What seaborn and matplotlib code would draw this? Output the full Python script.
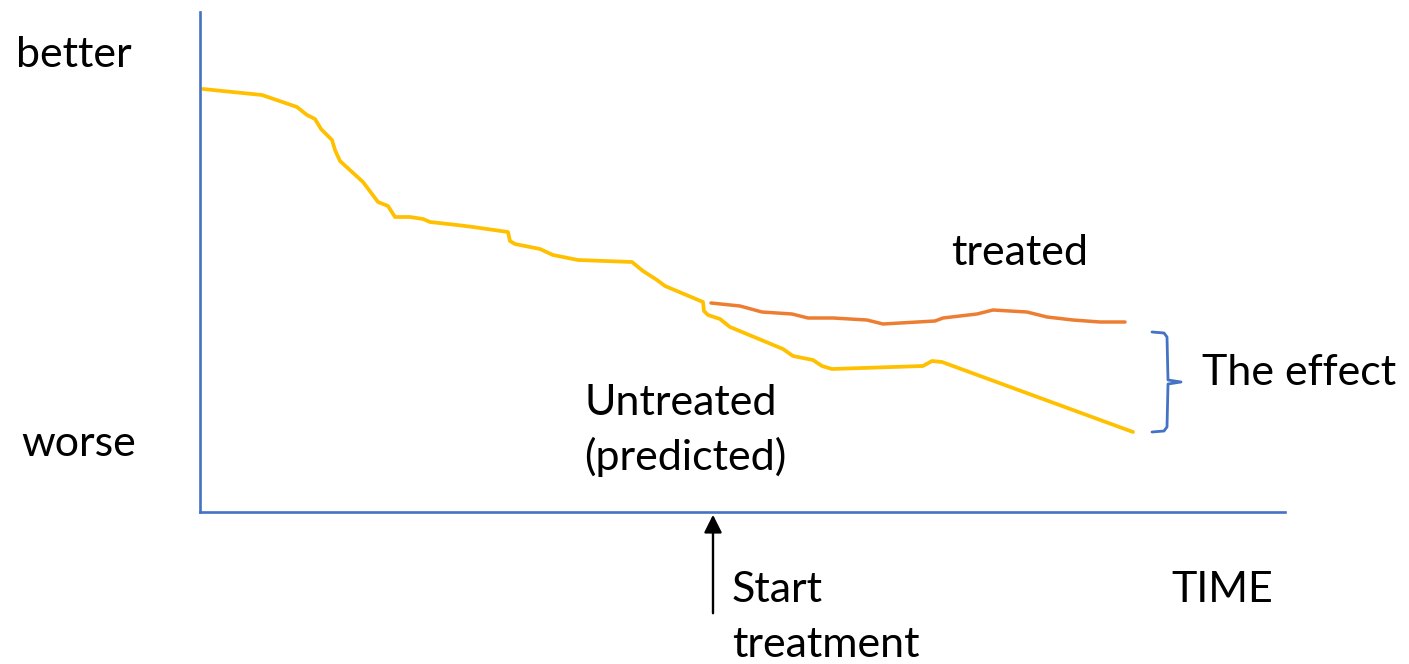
import seaborn as sns
import matplotlib.pyplot as plt
import pandas as pd

# schematic data (arbitrary units: time along x, health score along y)
untreated_time = [3, 62, 97, 107, 115, 121, 132, 135, 140, 163, 178, 188, 195, 210, 223, 230,
                  257, 273, 308, 310, 315, 340, 353, 378, 432, 443, 457, 465, 503, 504, 508,
                  520, 530, 583, 593, 613, 622, 632, 723, 732, 742, 933]
untreated_score = [423, 417, 405, 397, 393, 383, 372, 362, 351, 330, 310, 306, 295, 295, 293, 290,
                   287, 285, 280, 271, 268, 263, 257, 252, 250, 241, 232, 226, 210, 201, 197,
                   193, 185, 163, 156, 152, 146, 143, 146, 151, 150, 80]
treated_time = [511, 540, 562, 592, 608, 633, 667, 683, 735, 743, 777, 793, 827, 847, 873, 900, 925]
treated_score = [209, 206, 200, 198, 194, 194, 192, 188, 191, 194, 198, 202, 200, 195, 192, 190, 190]
start_time = 513

yellow = "#FFC000"
orange = "#ED7D31"
blue = "#4472C4"

sns.set_theme(style="white")
plt.rcParams['font.family'] = ['Lato', 'DejaVu Sans']

fig = plt.figure(figsize=(14.09, 6.64), dpi=100)
ax = fig.add_axes([200 / 1409, 152 / 664, 1085 / 1409, 500 / 664])

df_u = pd.DataFrame({"time": untreated_time, "score": untreated_score})
df_t = pd.DataFrame({"time": treated_time, "score": treated_score})
sns.lineplot(data=df_u, x="time", y="score", color=yellow, linewidth=2.7, sort=False, ax=ax)
sns.lineplot(data=df_t, x="time", y="score", color=orange, linewidth=2.5, sort=False, ax=ax)

ax.set_xlim(0, 1085)
ax.set_ylim(0, 500)
ax.set_xticks([])
ax.set_yticks([])
ax.set_xlabel("")
ax.set_ylabel("")
for side in ["top", "right"]:
    ax.spines[side].set_visible(False)
for side in ["left", "bottom"]:
    ax.spines[side].set_color(blue)
    ax.spines[side].set_linewidth(1.9)

# curly bracket showing the effect
top = treated_score[-1] - 10
bot = untreated_score[-1]
bx = untreated_time[-1] + 34
mid = (top + bot) / 2
bx_pts = [bx - 15, bx - 3, bx, bx + 1, bx + 14, bx + 1, bx, bx - 3, bx - 15]
by_pts = [top, top - 1, top - 5, mid + 2, mid, mid - 2, bot + 5, bot + 1, bot]
ax.plot(bx_pts, by_pts, color=blue, linewidth=2.0, clip_on=False,
        solid_joinstyle="round", solid_capstyle="round")

# start treatment arrow
ax.annotate("", xy=(start_time, 0), xytext=(start_time, -104),
            arrowprops=dict(arrowstyle="-|>,head_length=0.9,head_width=0.45",
                            color="black", linewidth=1.7),
            annotation_clip=False)

fs = 31
txt = dict(fontsize=fs, color="black", va="baseline", ha="left", clip_on=False)
ax.text(-184, 445, "better", **txt)
ax.text(-179, 56, "worse", **txt)
ax.text(751, 247, "treated", **txt)
ax.text(384, 97, "Untreated", **txt)
ax.text(384, 42, "(predicted)", **txt)
ax.text(1002, 127, "The effect", **txt)
ax.text(532, -90, "Start", **txt)
ax.text(532, -145, "treatment", **txt)
ax.text(971, -90, "TIME", **txt)

fig.savefig("out.png", dpi=100)
